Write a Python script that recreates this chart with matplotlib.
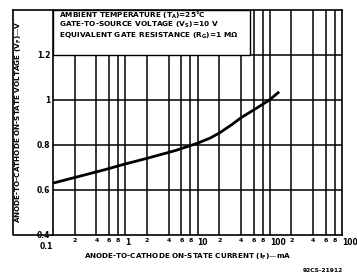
import matplotlib.pyplot as plt
from matplotlib.patches import Rectangle

# curve: forward current (mA) vs on-state voltage (V)
current_ma = [0.1, 0.2, 0.5, 1, 2, 5, 10, 15, 20, 30, 40, 70, 100, 135]
voltage_v = [0.63, 0.655, 0.688, 0.715, 0.74, 0.775, 0.807, 0.83, 0.852, 0.89, 0.92, 0.968, 1.0, 1.035]

y_ticks = [0.4, 0.6, 0.8, 1.0, 1.2]
y_tick_labels = ['0.4', '0.6', '0.8', '1', '1.2']
decades = [0.1, 1, 10, 100, 1000]
decade_labels = ['0.1', '1', '10', '100', '1000']
minor_mult = [2, 4, 6, 8]

notes = ['AMBIENT TEMPERATURE (T$_A$)=25\u00b0C',
         'GATE-TO-SOURCE VOLTAGE (V$_S$)=10 V',
         'EQUIVALENT GATE RESISTANCE (R$_G$)=1 M\u03a9']

W, H = 357, 276
fig = plt.figure(figsize=(W / 100, H / 100), dpi=100)
fig.patch.set_facecolor('white')
plt.rcParams['font.family'] = ['DejaVu Sans']
plt.rcParams['mathtext.default'] = 'bf'

ax = fig.add_axes([53 / W, 1 - 235 / H, (342 - 53) / W, (235 - 9.5) / H])
ax.set_xscale('log')
ax.set_xlim(0.1, 1000)
ax.set_ylim(0.4, 1.4)

# grid lines (drawn as lines so the note box can cover them)
minor_vals = [d * m for d in decades[:-1] for m in minor_mult]
for v in decades[1:-1] + minor_vals:
    ax.axvline(v, color='black', lw=1.1, zorder=1)
for v in y_ticks[1:]:
    ax.axhline(v, color='black', lw=1.1, zorder=1)

ax.plot(current_ma, voltage_v, color='black', lw=2.0, solid_capstyle='butt', zorder=3)

# note box at top left
ax.add_patch(Rectangle((0, 0.8), 0.68, 0.2, transform=ax.transAxes, facecolor='white',
                       edgecolor='black', lw=1.0, zorder=4))
for i, t in enumerate(notes):
    ax.text(0.02, 0.975 - i * 0.045, t, transform=ax.transAxes, fontsize=5.3,
            fontweight='bold', va='center', ha='left', zorder=5)

for s in ax.spines.values():
    s.set_linewidth(1.2)
ax.tick_params(length=0)
ax.set_xticks([])
ax.set_xticks([], minor=True)
ax.set_yticks(y_ticks)
ax.set_yticklabels(y_tick_labels, fontsize=5.5, fontweight='bold')
ax.tick_params(axis='y', pad=2)

# x tick labels: minor centred, decades just right of the line
trans = ax.get_xaxis_transform()
for d in decades[:-1]:
    for m in minor_mult:
        ax.text(d * m, -0.012, str(m), transform=trans, fontsize=4.5,
                fontweight='bold', ha='center', va='top')
for v, lab in zip(decades, decade_labels):
    if v == 0.1:
        ax.text(v, -0.03, lab, transform=trans, fontsize=5.5, fontweight='bold',
                ha='right', va='top')
    else:
        ax.text(v, -0.015, lab, transform=trans, fontsize=5.5, fontweight='bold',
                ha='left', va='top')

ax.set_ylabel('ANODE-TO-CATHODE ON-STATE VOLTAGE (V$_F$)\u2014V', fontsize=5.2,
              fontweight='bold')
ax.yaxis.set_label_coords(-0.1, 0.5)
fig.text((73 + 303) / 2 / W, 1 - 257 / H,
         'ANODE-TO-CATHODE ON-STATE CURRENT (I$_F$)\u2014mA',
         fontsize=5.2, fontweight='bold', ha='center', va='center')
fig.text(343 / W, 1 - 270 / H, '92CS-21912', fontsize=4.3, fontweight='bold',
         ha='right', va='center')

# outer frame around the y label
fig.add_artist(plt.Line2D([13 / W, 13 / W, 53 / W], [1 - 9.5 / H, 1 - 235 / H, 1 - 235 / H],
                          color='black', lw=1.2))
fig.add_artist(plt.Line2D([13 / W, 53 / W], [1 - 9.5 / H, 1 - 9.5 / H], color='black', lw=1.2))

fig.savefig('out.png', dpi=100, facecolor='white')
